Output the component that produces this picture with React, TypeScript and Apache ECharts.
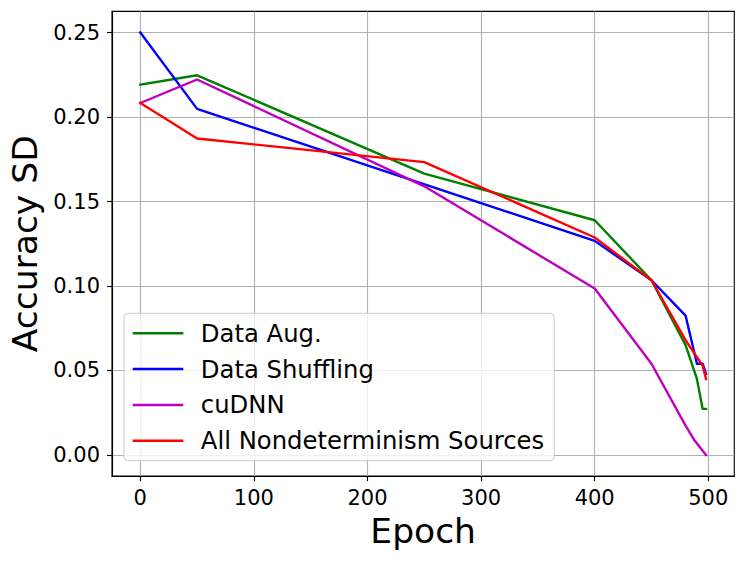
import React, { useEffect, useRef } from "react";
import * as echarts from "echarts";

const xTicks = [0, 100, 200, 300, 400, 500];
const yTicks = [0, 0.05, 0.1, 0.15, 0.2, 0.25];

const augEpochs = [0, 50, 250, 400, 450, 480, 490, 495, 498];
const augValues = [0.2192, 0.2247, 0.1665, 0.1389, 0.1034, 0.065, 0.045, 0.0273, 0.0273];

const shufEpochs = [0, 50, 400, 450, 480, 490, 495, 498];
const shufValues = [0.25, 0.2048, 0.1267, 0.1034, 0.0825, 0.054, 0.054, 0.048];

const cudnnEpochs = [0, 50, 250, 400, 450, 480, 488, 498];
const cudnnValues = [0.2083, 0.2222, 0.159, 0.0985, 0.054, 0.0174, 0.0085, 0.0];

const allEpochs = [0, 50, 250, 400, 450, 480, 490, 495, 498];
const allValues = [0.2083, 0.1873, 0.1733, 0.1287, 0.1034, 0.068, 0.0578, 0.053, 0.045];

const seriesNames = ["Data Aug.", "Data Shuffling", "cuDNN", "All Nondeterminism Sources"];
const seriesColors = ["#008000", "#0000ff", "#bf00bf", "#ff0000"];

const FONT = "DejaVu Sans";

function pairs(xs: number[], ys: number[]) {
  return xs.map((x, i) => [x, ys[i]]);
}

export default function App() {
  const ref = useRef<HTMLDivElement>(null);
  useEffect(() => {
    if (!ref.current) return;
    const chart = echarts.init(ref.current, undefined, { renderer: "svg" });
    const data = [
      pairs(augEpochs, augValues),
      pairs(shufEpochs, shufValues),
      pairs(cudnnEpochs, cudnnValues),
      pairs(allEpochs, allValues),
    ];
    chart.setOption({
      animation: false,
      backgroundColor: "#ffffff",
      grid: {
        left: 112,
        right: 12.7,
        top: 11.4,
        bottom: 85.9,
        show: true,
        borderColor: "#000000",
        borderWidth: 1.1,
        backgroundColor: "transparent",
        outerBoundsMode: "none",
      },
      xAxis: {
        type: "value",
        min: -24.9,
        max: 522.9,
        name: "Epoch",
        nameLocation: "middle",
        nameGap: 36,
        nameTextStyle: { fontFamily: FONT, fontSize: 34.5, color: "#000" },
        axisLine: { show: true, onZero: false, lineStyle: { color: "#000", width: 1.1 } },
        axisTick: {
          show: true,
          inside: false,
          length: 5,
          lineStyle: { color: "#000", width: 1.1 },
          customValues: xTicks,
        },
        axisLabel: {
          show: true,
          margin: 11.5,
          fontFamily: FONT,
          fontSize: 21,
          color: "#000",
          customValues: xTicks,
          formatter: (v: number) => String(Math.round(v)),
        },
        splitLine: { show: true, lineStyle: { color: "#b0b0b0", width: 1.1 } },
      },
      yAxis: {
        type: "value",
        min: -0.0125,
        max: 0.2625,
        name: "Accuracy SD",
        nameLocation: "middle",
        nameGap: 68,
        nameTextStyle: { fontFamily: FONT, fontSize: 34.5, color: "#000" },
        axisLine: { show: true, onZero: false, lineStyle: { color: "#000", width: 1.1 } },
        axisTick: {
          show: true,
          inside: false,
          length: 5,
          lineStyle: { color: "#000", width: 1.1 },
          customValues: yTicks,
        },
        axisLabel: {
          show: true,
          margin: 12,
          fontFamily: FONT,
          fontSize: 21,
          color: "#000",
          customValues: yTicks,
          formatter: (v: number) => v.toFixed(2),
        },
        splitLine: { show: true, lineStyle: { color: "#b0b0b0", width: 1.1 } },
      },
      legend: {
        show: true,
        orient: "vertical",
        left: 124,
        top: 313.3,
        padding: [6, 10, 6, 8.7],
        itemWidth: 50.6,
        itemHeight: 2.5,
        itemGap: 7.8,
        icon: "rect",
        backgroundColor: "rgba(255,255,255,0.8)",
        borderColor: "#cccccc",
        borderWidth: 1,
        borderRadius: 4,
        data: seriesNames,
        textStyle: {
          fontFamily: FONT,
          fontSize: 24.3,
          color: "#000",
          lineHeight: 28,
          padding: [0, 0, 0, 12.5],
        },
      },
      series: seriesNames.map((name, i) => ({
        name,
        type: "line",
        data: data[i],
        showSymbol: false,
        symbol: "none",
        color: seriesColors[i],
        lineStyle: { color: seriesColors[i], width: 2.4, join: "round", cap: "square" },
        itemStyle: { color: seriesColors[i] },
        emphasis: { disabled: true },
        z: 2 + i,
      })),
    });
    return () => chart.dispose();
  }, []);
  return (
    <div
      ref={ref}
      style={{ position: "fixed", left: 0, top: 0, width: 747, height: 562 }}
    />
  );
}
